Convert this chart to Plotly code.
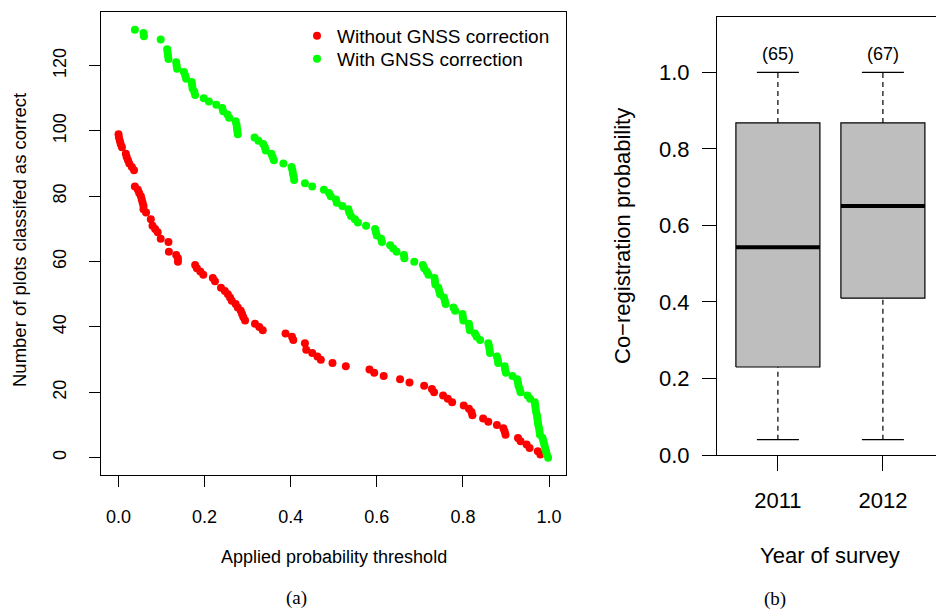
import plotly.graph_objects as go

# ---------------- data: panel (a) ----------------
red_x = [0.000, 0.001, 0.003, 0.005, 0.008, 0.017, 0.019, 0.022, 0.025, 0.031,
         0.036, 0.038, 0.045, 0.048, 0.052, 0.054, 0.056, 0.058, 0.058, 0.064,
         0.075, 0.079, 0.085, 0.091, 0.098, 0.116, 0.117, 0.134, 0.138, 0.138,
         0.178, 0.182, 0.190, 0.197, 0.219, 0.224, 0.238, 0.247, 0.254, 0.259,
         0.263, 0.272, 0.277, 0.284, 0.287, 0.290, 0.294, 0.317, 0.327, 0.335,
         0.388, 0.403, 0.406, 0.433, 0.436, 0.450, 0.462, 0.470, 0.497, 0.528,
         0.583, 0.594, 0.616, 0.654, 0.676, 0.710, 0.728, 0.733, 0.754, 0.765,
         0.775, 0.802, 0.814, 0.820, 0.822, 0.847, 0.859, 0.879, 0.894, 0.897,
         0.899, 0.928, 0.934, 0.948, 0.955, 0.974, 0.980]
red_y = [99, 98, 97, 96, 95, 93, 92, 91, 90, 89,
         88, 83, 82, 81, 80, 79, 78, 77, 76, 75,
         73, 71, 70, 69, 67, 66, 63, 62, 61, 60,
         59, 58, 57, 56, 55, 54, 52, 51, 50, 49,
         48, 47, 46, 45, 44, 43, 42, 41, 40, 39,
         38, 37, 36, 35, 33, 32, 31, 30, 29, 28,
         27, 26, 25, 24, 23, 22, 21, 20, 19, 18,
         17, 16, 15, 14, 13, 12, 11, 10, 9, 8,
         7, 6, 5, 4, 3, 2, 1]

green_x = [0.038, 0.058, 0.059, 0.098, 0.113, 0.114, 0.115, 0.116, 0.134, 0.135,
           0.136, 0.152, 0.155, 0.157, 0.170, 0.171, 0.172, 0.176, 0.178, 0.198,
           0.210, 0.227, 0.241, 0.243, 0.253, 0.257, 0.272, 0.274, 0.275, 0.276,
           0.277, 0.316, 0.325, 0.336, 0.340, 0.342, 0.355, 0.358, 0.361, 0.383,
           0.402, 0.404, 0.405, 0.407, 0.408, 0.433, 0.450, 0.477, 0.489, 0.493,
           0.505, 0.507, 0.520, 0.534, 0.536, 0.540, 0.549, 0.556, 0.575, 0.596,
           0.598, 0.600, 0.610, 0.612, 0.631, 0.638, 0.646, 0.663, 0.664, 0.687,
           0.707, 0.710, 0.716, 0.720, 0.734, 0.735, 0.736, 0.743, 0.745, 0.747,
           0.756, 0.758, 0.760, 0.778, 0.782, 0.799, 0.800, 0.801, 0.814, 0.815,
           0.816, 0.828, 0.832, 0.840, 0.859, 0.861, 0.862, 0.863, 0.879, 0.881,
           0.882, 0.897, 0.898, 0.900, 0.915, 0.926, 0.928, 0.929, 0.932, 0.934,
           0.950, 0.956, 0.967, 0.968, 0.969, 0.970, 0.972, 0.973, 0.974, 0.975,
           0.977, 0.978, 0.979, 0.985, 0.987, 0.989, 0.991, 0.993, 0.995, 0.998]
green_y = [131, 130, 129, 128, 125, 124, 123, 122, 121, 120,
           119, 118, 117, 116, 115, 114, 113, 112, 111, 110,
           109, 108, 107, 106, 105, 104, 103, 102, 101, 100,
           99, 98, 97, 96, 95, 94, 93, 92, 91, 90,
           89, 88, 87, 86, 85, 84, 83, 82, 81, 80,
           79, 78, 77, 76, 75, 74, 73, 72, 71, 70,
           69, 68, 67, 66, 65, 64, 63, 62, 61, 60,
           59, 58, 57, 56, 55, 54, 53, 52, 51, 50,
           49, 48, 47, 46, 45, 44, 43, 42, 41, 40,
           39, 38, 37, 36, 35, 34, 33, 32, 31, 30,
           29, 28, 27, 26, 25, 24, 23, 22, 21, 20,
           19, 18, 17, 16, 15, 14, 13, 12, 11, 10,
           9, 8, 7, 6, 5, 4, 3, 2, 1, 0]

x_ticks_a = [0.0, 0.2, 0.4, 0.6, 0.8, 1.0]
x_ticklabels_a = ["0.0", "0.2", "0.4", "0.6", "0.8", "1.0"]
y_ticks_a = [0, 20, 40, 60, 80, 100, 120]

# ---------------- data: panel (b) ----------------
years = ["2011", "2012"]
box_pos = [1, 2]
whisker_low = [0.04, 0.04]
q1 = [0.230, 0.410]
median = [0.543, 0.651]
q3 = [0.868, 0.868]
whisker_high = [1.0, 1.0]
n_labels = ["(65)", "(67)"]
y_ticks_b = [0.0, 0.2, 0.4, 0.6, 0.8, 1.0]
y_ticklabels_b = ["0.0", "0.2", "0.4", "0.6", "0.8", "1.0"]

# ---------------- layout helpers ----------------
W, H = 936, 610
def fx(p):
    return p / W
def fy(p):
    return 1 - p / H

SANS = "Liberation Sans, Arial, Helvetica, sans-serif"
SERIF = "Liberation Serif, DejaVu Serif, serif"

fig = go.Figure()

fig.add_trace(go.Scatter(x=red_x, y=red_y, mode="markers", name="Without GNSS correction",
                         marker=dict(color="#FF0000", size=8, line=dict(width=0)),
                         xaxis="x", yaxis="y", cliponaxis=False, legend="legend"))
fig.add_trace(go.Scatter(x=green_x, y=green_y, mode="markers", name="With GNSS correction",
                         marker=dict(color="#00FF00", size=8, line=dict(width=0)),
                         xaxis="x", yaxis="y", cliponaxis=False, legend="legend2"))

BOX_HALF = 0.4
CAP_HALF = 0.2
for i, p in enumerate(box_pos):
    # whiskers (dashed)
    fig.add_trace(go.Scatter(x=[p, p], y=[q3[i], whisker_high[i]], mode="lines",
                             line=dict(color="black", width=1.2, dash="5px,4px"),
                             showlegend=False, hoverinfo="skip", xaxis="x2", yaxis="y2"))
    fig.add_trace(go.Scatter(x=[p, p], y=[whisker_low[i], q1[i]], mode="lines",
                             line=dict(color="black", width=1.2, dash="5px,4px"),
                             showlegend=False, hoverinfo="skip", xaxis="x2", yaxis="y2"))
    # caps
    for v in (whisker_low[i], whisker_high[i]):
        fig.add_trace(go.Scatter(x=[p - CAP_HALF, p + CAP_HALF], y=[v, v], mode="lines",
                                 line=dict(color="black", width=1.2),
                                 showlegend=False, hoverinfo="skip", xaxis="x2", yaxis="y2"))
    # box
    fig.add_trace(go.Scatter(x=[p - BOX_HALF, p + BOX_HALF, p + BOX_HALF, p - BOX_HALF, p - BOX_HALF],
                             y=[q1[i], q1[i], q3[i], q3[i], q1[i]], mode="lines", fill="toself",
                             fillcolor="#BEBEBE", line=dict(color="black", width=1.2),
                             showlegend=False, hoverinfo="skip", xaxis="x2", yaxis="y2"))
    # median
    fig.add_trace(go.Scatter(x=[p - BOX_HALF, p + BOX_HALF], y=[median[i], median[i]], mode="lines",
                             line=dict(color="black", width=4),
                             showlegend=False, hoverinfo="skip", xaxis="x2", yaxis="y2"))

fig.add_trace(go.Scatter(x=box_pos, y=[1.045] * len(box_pos), mode="text", text=n_labels,
                         textposition="middle center",
                         textfont=dict(family=SANS, size=18, color="black"),
                         showlegend=False, hoverinfo="skip", xaxis="x2", yaxis="y2"))

axis_common = dict(showline=True, linecolor="black", linewidth=1.2, ticks="outside",
                   tickcolor="black", tickwidth=1.2, showgrid=False, zeroline=False,
                   automargin=False)

legend_common = dict(xanchor="left", yanchor="middle", bgcolor="rgba(0,0,0,0)", borderwidth=0,
                     font=dict(family=SANS, size=19, color="black"),
                     itemclick=False, itemdoubleclick=False)

fig.update_layout(
    width=W, height=H,
    autosize=False,
    margin=dict(l=0, r=0, t=0, b=0, pad=0, autoexpand=False),
    paper_bgcolor="white", plot_bgcolor="white",
    font=dict(family=SANS, color="black"),
    showlegend=True,
    legend=dict(x=fx(297), y=fy(36), **legend_common),
    legend2=dict(x=fx(297), y=fy(59), **legend_common),
    xaxis=dict(domain=[fx(101), fx(566)], range=[-0.0407, 1.0395], anchor="y",
               tickvals=x_ticks_a, ticktext=x_ticklabels_a, ticklen=11, mirror=True,
               tickfont=dict(size=18), ticklabelstandoff=14, **axis_common),
    yaxis=dict(domain=[fy(475), fy(12)], range=[-5.3, 136.4], anchor="x",
               tickvals=y_ticks_a, ticklen=11, mirror=True, tickangle=-90,
               tickfont=dict(size=18), ticklabelstandoff=16, **axis_common),
    xaxis2=dict(domain=[fx(717), 1.0], range=[0.42, 0.42 + 219 / 105], anchor="y2",
                tickvals=box_pos, ticktext=years, ticklen=15, mirror=True,
                tickfont=dict(size=22), ticklabelstandoff=10, **axis_common),
    yaxis2=dict(domain=[fy(455), fy(17.3)], range=[0, 1.144], anchor="x2",
                tickvals=y_ticks_b, ticktext=y_ticklabels_b, ticklen=14, mirror=False,
                tickfont=dict(size=22), ticklabelstandoff=8, **axis_common),
    annotations=[
        dict(text="Applied probability threshold", x=fx(333.5), y=fy(557), xref="paper", yref="paper",
             showarrow=False, xanchor="center", yanchor="middle", font=dict(size=18)),
        dict(text="Number of plots classifed as correct", x=fx(19), y=fy(240), xref="paper", yref="paper",
             showarrow=False, xanchor="center", yanchor="middle", textangle=-90, font=dict(size=18.5)),
        dict(text="Co\u2212registration probability", x=fx(622), y=fy(236), xref="paper", yref="paper",
             showarrow=False, xanchor="center", yanchor="middle", textangle=-90, font=dict(size=22)),
        dict(text="Year of survey", x=fx(830), y=fy(555), xref="paper", yref="paper",
             showarrow=False, xanchor="center", yanchor="middle", font=dict(size=22)),
        dict(text="(a)", x=fx(296), y=fy(598), xref="paper", yref="paper",
             showarrow=False, xanchor="center", yanchor="middle", font=dict(family=SERIF, size=19)),
        dict(text="(b)", x=fx(775), y=fy(599), xref="paper", yref="paper",
             showarrow=False, xanchor="center", yanchor="middle", font=dict(family=SERIF, size=19)),
    ],
)

fig.write_html("out.html")
